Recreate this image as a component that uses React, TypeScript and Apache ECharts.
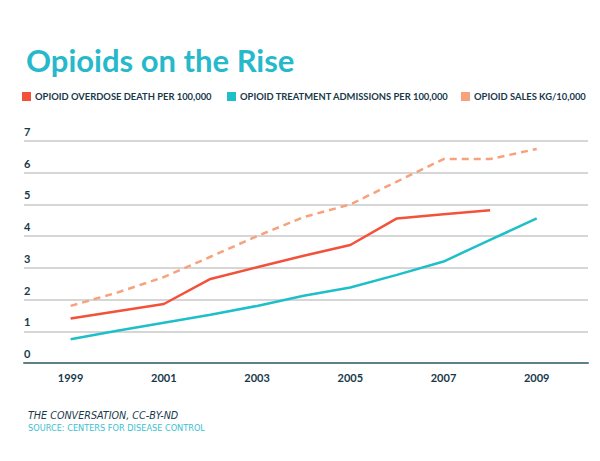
import React, { useEffect, useRef } from "react";
import * as echarts from "echarts";

const years = [1999, 2000, 2001, 2002, 2003, 2004, 2005, 2006, 2007, 2008, 2009];
const overdoseDeaths = [1.4, 1.63, 1.86, 2.65, 3.02, 3.38, 3.72, 4.56, 4.69, 4.82, null];
const treatmentAdmissions = [0.75, 1.02, 1.27, 1.52, 1.8, 2.12, 2.38, 2.78, 3.2, 3.88, 4.56];
const opioidSales = [1.8, 2.22, 2.71, 3.35, 4.0, 4.6, 5.0, 5.72, 6.43, 6.43, 6.75];
const seriesNames = [
  "OPIOID OVERDOSE DEATH PER 100,000",
  "OPIOID TREATMENT ADMISSIONS PER 100,000",
  "OPIOID SALES KG/10,000",
];
const colors = ["#f4513a", "#1fbfc9", "#f7a27c"];
const title = "Opioids on the Rise";
const credit = "THE CONVERSATION, CC-BY-ND";
const source = "SOURCE: CENTERS FOR DISEASE CONTROL";

const navy = "#17394a";
const font = "Lato";

export default function App() {
  const ref = useRef<HTMLDivElement>(null);
  useEffect(() => {
    if (!ref.current) return;
    const chart = echarts.init(ref.current, null, { renderer: "svg" });
    const toPairs = (arr: (number | null)[]) =>
      years.map((y, i) => [y, arr[i]]).filter((p) => p[1] !== null);
    const legendLefts = [22, 227, 461];
    chart.setOption({
      animation: false,
      backgroundColor: "#ffffff",
      textStyle: { fontFamily: font },
      title: [
        {
          text: title,
          left: 21,
          top: 39,
          textStyle: { color: "#27b9cb", fontSize: 31, fontWeight: "bold", fontFamily: font },
        },
        {
          text: credit,
          left: 23,
          top: 405,
          textStyle: { color: navy, fontSize: 9.6, fontStyle: "italic", fontWeight: "normal", fontFamily: "DejaVu Sans" },
        },
        {
          text: source,
          left: 23,
          top: 419,
          textStyle: { color: "#3cc0cf", fontSize: 8.2, fontWeight: "normal", fontFamily: "DejaVu Sans" },
        },
      ],
      legend: seriesNames.map((n, i) => ({
        data: [n],
        left: legendLefts[i],
        top: 92,
        padding: 0,
        icon: "rect",
        itemWidth: 9,
        itemHeight: 9,
        itemGap: 5,
        selectedMode: false,
        textStyle: { color: navy, fontSize: 9.4, fontWeight: "bold", fontFamily: font, padding: [0, 0, 0, -1] },
      })),
      grid: { left: 24, right: 12, top: 141, bottom: 98, containLabel: false },
      xAxis: {
        type: "value",
        min: 1998,
        max: 2010.1,
        interval: 1,
        splitLine: { show: false },
        axisTick: { show: false },
        axisLine: { show: true, lineStyle: { color: "#5e8089", width: 2 } },
        axisLabel: {
          showMaxLabel: false,
          showMinLabel: false,
          margin: 9,
          color: navy,
          fontSize: 11,
          fontWeight: "bold",
          fontFamily: font,
          formatter: (v: number) => (Math.round(v) === v && v % 2 === 1 ? String(v) : ""),
        },
      },
      yAxis: {
        type: "value",
        min: 0,
        max: 7,
        interval: 1,
        axisLine: { show: false },
        axisTick: { show: false },
        splitLine: { show: true, lineStyle: { color: "#c8c8c8", width: 1.5 } },
        axisLabel: {
          inside: true,
          margin: 0,
          verticalAlign: "bottom",
          padding: [0, 0, 4, 0],
          color: navy,
          fontSize: 11,
          fontWeight: "bold",
          fontFamily: font,
        },
      },
      series: [
        {
          name: seriesNames[0],
          type: "line",
          data: toPairs(overdoseDeaths),
          showSymbol: false,
          itemStyle: { color: colors[0] },
          lineStyle: { color: colors[0], width: 2.5 },
        },
        {
          name: seriesNames[1],
          type: "line",
          data: toPairs(treatmentAdmissions),
          showSymbol: false,
          itemStyle: { color: colors[1] },
          lineStyle: { color: colors[1], width: 2.5 },
        },
        {
          name: seriesNames[2],
          type: "line",
          data: toPairs(opioidSales),
          showSymbol: false,
          itemStyle: { color: colors[2] },
          lineStyle: { color: colors[2], width: 2.5, type: [7, 5] },
        },
      ],
    });
    return () => chart.dispose();
  }, []);
  return <div ref={ref} style={{ width: 600, height: 461, position: "absolute", left: 0, top: 0 }} />;
}
